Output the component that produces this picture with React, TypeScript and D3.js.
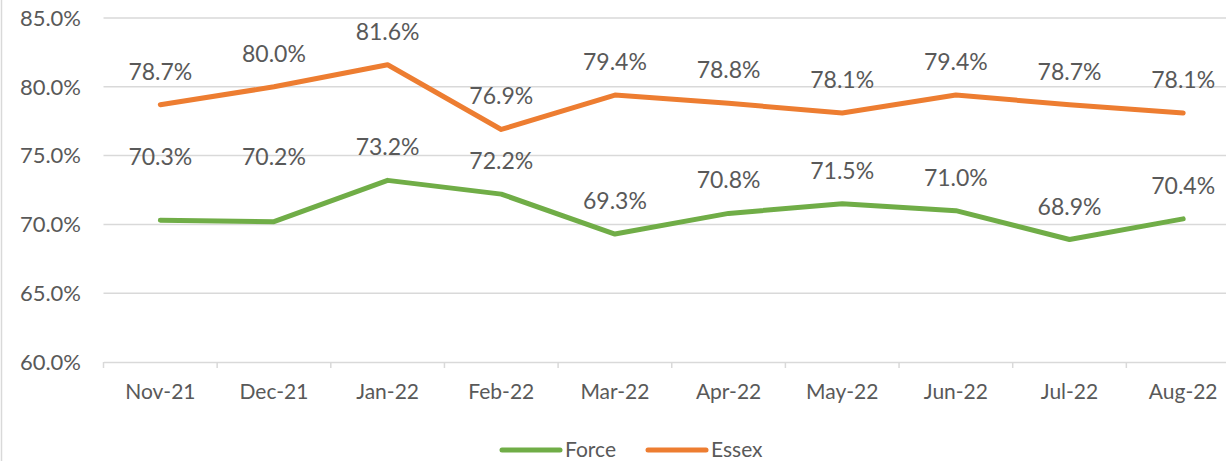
import React, { useEffect, useRef } from "react";
import * as d3 from "d3";

const months = ["Nov-21", "Dec-21", "Jan-22", "Feb-22", "Mar-22", "Apr-22", "May-22", "Jun-22", "Jul-22", "Aug-22"];
const force = [70.3, 70.2, 73.2, 72.2, 69.3, 70.8, 71.5, 71.0, 68.9, 70.4];
const essex = [78.7, 80.0, 81.6, 76.9, 79.4, 78.8, 78.1, 79.4, 78.7, 78.1];
const yTicks = [60, 65, 70, 75, 80, 85];

const W = 1226;
const H = 461;
const FONT = "Lato, 'Open Sans', sans-serif";
const TEXT = "#595959";

const App = () => {
  const ref = useRef<SVGSVGElement>(null);

  useEffect(() => {
    document.body.style.margin = "0";
    const svg = d3.select(ref.current);
    svg.selectAll("*").remove();

    // plot area runs past the right edge, like the cropped original
    const x = d3.scaleBand().domain(months).range([103.5, 1240]);
    const y = d3.scaleLinear().domain([60, 85]).range([362, 18]);
    const cx = (m: string) => (x(m) as number) + x.bandwidth() / 2;

    // chart border (only the left side is in view)
    svg.append("line")
      .attr("x1", 1.5).attr("x2", 1.5).attr("y1", 0).attr("y2", H)
      .attr("stroke", "#d9d9d9").attr("stroke-width", 1.5);

    // gridlines
    svg.append("g")
      .selectAll("line")
      .data(yTicks.filter((t) => t > 60))
      .join("line")
      .attr("x1", 103.5).attr("x2", 1240)
      .attr("y1", (d) => y(d)).attr("y2", (d) => y(d))
      .attr("stroke", "#d9d9d9").attr("stroke-width", 1.5);

    // y axis labels
    svg.append("g")
      .selectAll("text")
      .data(yTicks)
      .join("text")
      .attr("x", 81).attr("y", (d) => y(d))
      .attr("dy", "0.35em")
      .attr("text-anchor", "end")
      .attr("font-family", FONT).attr("font-size", 22).attr("fill", TEXT)
      .text((d) => d.toFixed(1) + "%");

    // x axis
    const xAxis = svg.append("g")
      .attr("transform", `translate(0,${y(60)})`)
      .call(d3.axisBottom(x).tickSize(0).tickPadding(22));
    xAxis.select(".domain").attr("stroke", "#d9d9d9").attr("stroke-width", 1.5);
    xAxis.selectAll("text")
      .attr("font-family", FONT).attr("font-size", 21).attr("fill", TEXT);
    svg.append("g")
      .selectAll("line")
      .data(d3.range(months.length + 1))
      .join("line")
      .attr("x1", (i) => 103.5 + i * x.step()).attr("x2", (i) => 103.5 + i * x.step())
      .attr("y1", y(60)).attr("y2", y(60) + 6)
      .attr("stroke", "#d9d9d9").attr("stroke-width", 1.5);

    const series = [
      { name: "Force", values: force, color: "#70ad47" },
      { name: "Essex", values: essex, color: "#ed7d31" },
    ];

    const line = d3.line<number>()
      .x((_, i) => cx(months[i]))
      .y((d) => y(d));

    series.forEach((s) => {
      svg.append("path")
        .attr("d", line(s.values))
        .attr("fill", "none")
        .attr("stroke", s.color)
        .attr("stroke-width", 5)
        .attr("stroke-linecap", "round")
        .attr("stroke-linejoin", "round");

      svg.append("g")
        .selectAll("text")
        .data(s.values)
        .join("text")
        .attr("x", (_, i) => cx(months[i]))
        .attr("y", (d, i) => {
          // first two Force labels were dragged up in the original
          if (s.name === "Force" && i < 2) return 165;
          return y(d) - 25;
        })
        .attr("text-anchor", "middle")
        .attr("font-family", FONT).attr("font-size", 23).attr("fill", TEXT)
        .text((d) => d.toFixed(1) + "%");
    });

    // legend
    const legend = svg.append("g").attr("transform", "translate(502,450)");
    let lx = 0;
    series.forEach((s) => {
      legend.append("line")
        .attr("x1", lx).attr("x2", lx + 58).attr("y1", 0).attr("y2", 0)
        .attr("stroke", s.color).attr("stroke-width", 5).attr("stroke-linecap", "round");
      legend.append("text")
        .attr("x", lx + 63).attr("y", 0).attr("dy", "0.35em")
        .attr("font-family", FONT).attr("font-size", 21).attr("fill", TEXT)
        .text(s.name);
      lx += 146;
    });
  }, []);

  return <svg ref={ref} width={W} height={H} style={{ display: "block", background: "#fff" }} />;
};

export default App;
